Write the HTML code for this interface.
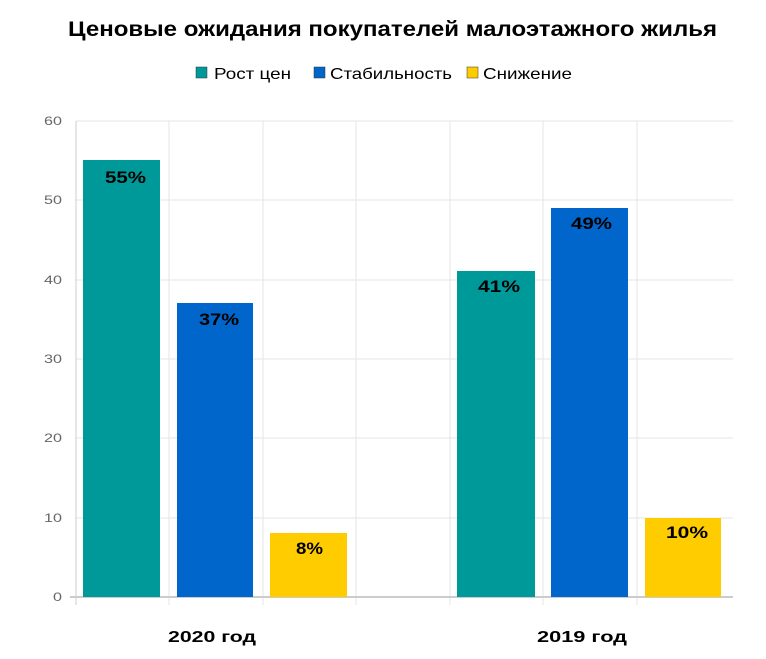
<!DOCTYPE html><html><head><meta charset="utf-8"><style>
body{margin:0;background:#fff;width:766px;height:654px;overflow:hidden;font-family:"Liberation Sans",sans-serif}
</style></head><body>
<svg width="766" height="654" xmlns="http://www.w3.org/2000/svg" font-family="Liberation Sans, sans-serif">
<text x="68" y="36" font-size="21" font-weight="bold" fill="#000" textLength="649" lengthAdjust="spacingAndGlyphs">Ценовые ожидания покупателей малоэтажного жилья</text>
<rect x="196" y="67" width="11" height="11" fill="#009999" stroke="#333" stroke-width="0.5"/>
<text x="214" y="79" font-size="16" fill="#000" textLength="77" lengthAdjust="spacingAndGlyphs">Рост цен</text>
<rect x="314" y="67" width="11" height="11" fill="#0066cc" stroke="#333" stroke-width="0.5"/>
<text x="330" y="79" font-size="16" fill="#000" textLength="122" lengthAdjust="spacingAndGlyphs">Стабильность</text>
<rect x="467" y="67" width="11" height="11" fill="#ffcc00" stroke="#333" stroke-width="0.5"/>
<text x="483" y="79" font-size="16" fill="#000" textLength="89" lengthAdjust="spacingAndGlyphs">Снижение</text>
<g stroke="#e6e6e6" stroke-width="1">
<line x1="76" y1="121" x2="733" y2="121"/><line x1="76" y1="200" x2="733" y2="200"/><line x1="76" y1="280" x2="733" y2="280"/><line x1="76" y1="359" x2="733" y2="359"/><line x1="76" y1="438" x2="733" y2="438"/><line x1="76" y1="518" x2="733" y2="518"/>
<line x1="169" y1="121" x2="169" y2="605"/><line x1="263" y1="121" x2="263" y2="605"/><line x1="356" y1="121" x2="356" y2="605"/><line x1="450" y1="121" x2="450" y2="605"/><line x1="543" y1="121" x2="543" y2="605"/><line x1="637" y1="121" x2="637" y2="605"/>
</g>
<line x1="76" y1="121" x2="76" y2="605" stroke="#ccc"/>
<line x1="70" y1="597" x2="733" y2="597" stroke="#ccc" stroke-width="2"/>
<g font-size="12" fill="#666">
<text x="44" y="125" textLength="18" lengthAdjust="spacingAndGlyphs">60</text><text x="44" y="204" textLength="18" lengthAdjust="spacingAndGlyphs">50</text><text x="44" y="284" textLength="18" lengthAdjust="spacingAndGlyphs">40</text><text x="44" y="363" textLength="18" lengthAdjust="spacingAndGlyphs">30</text><text x="44" y="442" textLength="18" lengthAdjust="spacingAndGlyphs">20</text><text x="44" y="522" textLength="18" lengthAdjust="spacingAndGlyphs">10</text><text x="53" y="601" textLength="9" lengthAdjust="spacingAndGlyphs">0</text>
</g>
<rect x="83" y="160" width="77" height="437" fill="#009999"/>
<rect x="177" y="303" width="76" height="294" fill="#0066cc"/>
<rect x="270" y="533" width="77" height="64" fill="#ffcc00"/>
<rect x="457" y="271" width="78" height="326" fill="#009999"/>
<rect x="551" y="208" width="77" height="389" fill="#0066cc"/>
<rect x="645" y="518" width="76" height="79" fill="#ffcc00"/>
<g font-size="17" font-weight="bold" fill="#000">
<text x="105" y="183" textLength="41" lengthAdjust="spacingAndGlyphs">55%</text>
<text x="199" y="325" textLength="40" lengthAdjust="spacingAndGlyphs">37%</text>
<text x="296" y="554" textLength="27" lengthAdjust="spacingAndGlyphs">8%</text>
<text x="478" y="292" textLength="42" lengthAdjust="spacingAndGlyphs">41%</text>
<text x="571" y="229" textLength="41" lengthAdjust="spacingAndGlyphs">49%</text>
<text x="666" y="538" textLength="42" lengthAdjust="spacingAndGlyphs">10%</text>
<text x="168" y="642" font-size="16" textLength="88" lengthAdjust="spacingAndGlyphs">2020 год</text>
<text x="537" y="642" font-size="16" textLength="90" lengthAdjust="spacingAndGlyphs">2019 год</text>
</g>
</svg>
</body></html>
